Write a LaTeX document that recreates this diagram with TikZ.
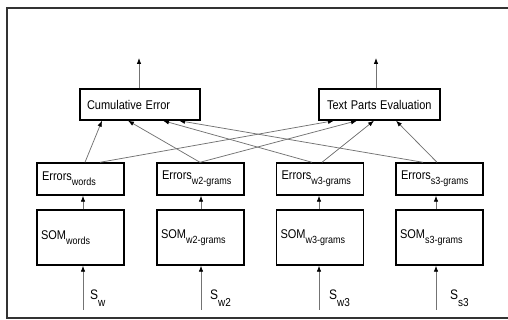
\documentclass[tikz,border=0pt]{standalone}
\usepackage{fontspec}
\setmainfont{Liberation Sans}
\usepackage{graphicx}
\usetikzlibrary{arrows.meta}

\newcommand\vs[1]{\scalebox{1}[1.15]{#1}}
\newcommand\subtxt[1]{\raisebox{-4.5pt}{\fontsize{9}{10}\selectfont #1}}
\newcommand\sublbl[1]{\raisebox{-5.5pt}{\fontsize{10}{11}\selectfont #1}}

\begin{document}
\begin{tikzpicture}[x=1pt,y=1pt,
  box/.style={draw=black, line width=1.4pt, inner ysep=0pt, align=left,
    font=\fontsize{11}{12}\selectfont},
  conn/.style={draw=black!55, line width=0.75pt,
    -{Latex[length=6pt,width=4.5pt,color=black]}},
  lbl/.style={inner sep=0pt, anchor=base west, font=\fontsize{12}{14}\selectfont}]
\useasboundingbox (0,0) rectangle (508,320);
\draw[line width=1.5pt, black!80] (508,312) -- (7,312) -- (7,2) -- (508,2);

% top boxes
\node[box, minimum height=31pt, inner xsep=7pt, text width=106pt] (ce) at (140,215.5)
  {\raisebox{-3pt}{\vs{Cumulative Error}}};
\node[box, minimum height=31pt, inner xsep=8pt, text width=105pt] (tpe) at (379.5,215.5)
  {\raisebox{-3pt}{\vs{Text Parts Evaluation}}};

% error boxes
\node[box, minimum height=32pt, inner xsep=5pt, text width=77pt] (e1) at (80.5,141)
  {\raisebox{1pt}{\vs{Errors\subtxt{words}}}};
\node[box, minimum height=32pt, inner xsep=5pt, text width=77pt] (e2) at (200.5,141)
  {\raisebox{1pt}{\vs{Errors\subtxt{w2-grams}}}};
\node[box, minimum height=32pt, inner xsep=5pt, text width=77pt] (e3) at (320,141)
  {\raisebox{1pt}{\vs{Errors\subtxt{w3-grams}}}};
\node[box, minimum height=32pt, inner xsep=5pt, text width=77pt] (e4) at (439.5,141)
  {\raisebox{1pt}{\vs{Errors\subtxt{s3-grams}}}};

% SOM boxes
\node[box, minimum height=55pt, inner xsep=4pt, text width=79pt] (s1) at (80.5,82.5)
  {\raisebox{-2pt}{\vs{SOM\subtxt{words}}}};
\node[box, minimum height=55pt, inner xsep=4pt, text width=79pt] (s2) at (200.5,82.5)
  {\raisebox{-2pt}{\vs{SOM\subtxt{w2-grams}}}};
\node[box, minimum height=55pt, inner xsep=4pt, text width=79pt] (s3) at (320,82.5)
  {\raisebox{-2pt}{\vs{SOM\subtxt{w3-grams}}}};
\node[box, minimum height=55pt, inner xsep=4pt, text width=79pt] (s4) at (439.5,82.5)
  {\raisebox{-2pt}{\vs{SOM\subtxt{s3-grams}}}};

% input labels
\node[lbl] (l1) at (90,20) {\vs{S\sublbl{w}}};
\node[lbl] (l2) at (210,20) {\vs{S\sublbl{w2}}};
\node[lbl] (l3) at (329,20) {\vs{S\sublbl{w3}}};
\node[lbl] (l4) at (450,20) {\vs{S\sublbl{s3}}};

% input coordinates
\coordinate (i1) at (83,10);
\coordinate (i2) at (201,10);
\coordinate (i3) at (319,10);
\coordinate (i4) at (436,10);
\draw[conn] (i1) -- (i1 |- s1.south);
\draw[conn] (i2) -- (i2 |- s2.south);
\draw[conn] (i3) -- (i3 |- s3.south);
\draw[conn] (i4) -- (i4 |- s4.south);

% SOM -> Errors
\draw[conn] ([xshift=2.5pt]s1.north) -- ([xshift=2.5pt]e1.south);
\draw[conn] ([xshift=0.5pt]s2.north) -- ([xshift=0.5pt]e2.south);
\draw[conn] ([xshift=-1pt]s3.north) -- ([xshift=-1pt]e3.south);
\draw[conn] ([xshift=-3.5pt]s4.north) -- ([xshift=-3.5pt]e4.south);

% Errors -> Cumulative Error
\draw[conn] ([xshift=4.5pt]e1.north) -- ([xshift=-38pt]ce.south);
\draw[conn] ([xshift=-0.5pt]e2.north) -- ([xshift=-12pt]ce.south);
\draw[conn] ([xshift=-8pt]e3.north) -- ([xshift=23pt]ce.south);
\draw[conn] ([xshift=-16.5pt]e4.north) -- ([xshift=39pt]ce.south);

% Errors -> Text Parts Evaluation
\draw[conn] ([xshift=19.5pt]e1.north) -- ([xshift=-45.5pt]tpe.south);
\draw[conn] ([xshift=-0.5pt]e2.north) -- ([xshift=-22.5pt]tpe.south);
\draw[conn] ([xshift=2pt]e3.north) -- ([xshift=-5.5pt]tpe.south);
\draw[conn] ([xshift=-2.5pt]e4.north) -- ([xshift=16.5pt]tpe.south);

% outputs
\coordinate (o1) at (139,262);
\coordinate (o2) at (376,262);
\draw[conn] (o1 |- ce.north) -- (o1);
\draw[conn] (o2 |- tpe.north) -- (o2);
\end{tikzpicture}
\end{document}
